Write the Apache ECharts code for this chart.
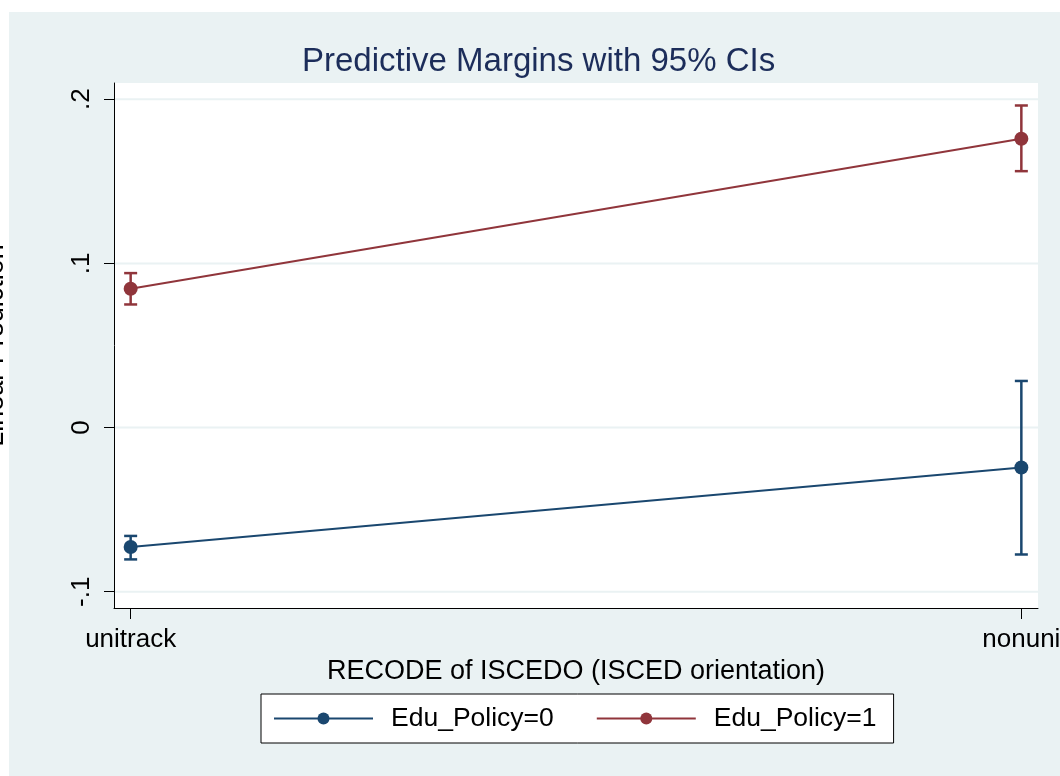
<!DOCTYPE html>
<html><head><meta charset="utf-8">
<script src="https://cdn.jsdelivr.net/npm/echarts@6/dist/echarts.min.js"></script>
<style>html,body{margin:0;padding:0;background:#fff;} #c{width:1060px;height:776px;}</style>
</head><body><div id="c"></div>
<script>
const categories = ['unitrack', 'nonuni'];
const xPos = [0, 1];
const yTicks = [-0.1, 0, 0.1, 0.2];
const yTickLabels = ['-.1', '0', '.1', '.2'];
const seriesNames = ['Edu_Policy=0', 'Edu_Policy=1'];
const est0 = [-0.0727, -0.0243];
const lo0  = [-0.0803, -0.0773];
const hi0  = [-0.0660,  0.0284];
const est1 = [ 0.0846,  0.1759];
const lo1  = [ 0.0750,  0.1562];
const hi1  = [ 0.0941,  0.1962];

const NAVY = '#1A476F', MAROON = '#90353B', BG = '#EAF2F3';
const FONT = "'Liberation Sans', Arial, sans-serif";

function ciRender(color) {
  return function (params, api) {
    const x = api.value(0), lo = api.value(1), hi = api.value(2);
    const a = api.coord([x, hi]), b = api.coord([x, lo]);
    const w = 6.5;
    const st = { stroke: color, lineWidth: 2.5 };
    return { type: 'group', children: [
      { type: 'line', shape: { x1: a[0], y1: a[1], x2: b[0], y2: b[1] }, style: st },
      { type: 'line', shape: { x1: a[0] - w, y1: a[1], x2: a[0] + w, y2: a[1] }, style: st },
      { type: 'line', shape: { x1: b[0] - w, y1: b[1], x2: b[0] + w, y2: b[1] }, style: st }
    ]};
  };
}

const chart = echarts.init(document.getElementById('c'), null, { renderer: 'canvas' });
chart.setOption({
  backgroundColor: 'transparent',
  animation: false,
  textStyle: { fontFamily: FONT },
  graphic: [{ type: 'rect', z: -10, silent: true, shape: { x: 9, y: 12, width: 1051, height: 764 }, style: { fill: BG } }],
  title: {
    text: 'Predictive Margins with 95% CIs',
    left: 302, top: 45, padding: 0,
    textStyle: { fontSize: 33, fontWeight: 'normal', color: '#1C2D5A', fontFamily: FONT }
  },
  grid: { left: 114, right: 22, top: 83, bottom: 168, show: true, backgroundColor: '#fff', borderWidth: 0,
    containLabel: false, outerBoundsMode: 'none' },
  xAxis: {
    type: 'value', min: -0.0187, max: 1.0187,
    name: 'RECODE of ISCEDO (ISCED orientation)', nameLocation: 'middle', nameGap: 42,
    nameTextStyle: { fontSize: 27, color: '#000', fontFamily: FONT },
    axisLine: { show: true, onZero: false, lineStyle: { color: '#000', width: 1 } },
    axisTick: { show: true, length: 11, customValues: xPos, lineStyle: { color: '#000' } },
    axisLabel: { customValues: xPos, fontSize: 26, color: '#000', margin: 19, hideOverlap: false,
      formatter: v => categories[xPos.indexOf(v)] },
    splitLine: { show: false }
  },
  yAxis: {
    type: 'value', min: -0.1099, max: 0.2099,
    name: 'Linear Prediction', nameLocation: 'middle', nameGap: 105, nameRotate: 90,
    nameTextStyle: { fontSize: 27, color: '#000', fontFamily: FONT },
    axisLine: { show: true, onZero: false, lineStyle: { color: '#000', width: 1 } },
    axisTick: { show: true, length: 10, customValues: yTicks, lineStyle: { color: '#000' } },
    axisLabel: { customValues: yTicks, fontSize: 26, color: '#000', rotate: 90, margin: 19,
      formatter: v => yTickLabels[yTicks.indexOf(v)] },
    splitLine: { show: false }
  },
  legend: {
    data: seriesNames, left: 261, top: 694, orient: 'horizontal',
    itemWidth: 99, itemHeight: 15, itemGap: 42,
    padding: [10.5, 17, 10.5, 12], borderColor: '#000', borderWidth: 1, backgroundColor: '#fff',
    textStyle: { fontSize: 26.5, color: '#000', fontFamily: FONT, lineHeight: 28, padding: [0, 0, 0, 13] }
  },
  series: [
    { type: 'custom', name: 'grid', z: 1, silent: true,
      data: yTicks.map(v => [0, v]),
      renderItem: function (params, api) {
        const y = api.coord([0, api.value(1)])[1];
        const cs = params.coordSys;
        return { type: 'line', shape: { x1: cs.x + 1, y1: y, x2: cs.x + cs.width, y2: y }, style: { stroke: BG, lineWidth: 2 } };
      } },
    { type: 'custom', name: 'ci0', z: 3, silent: true,
      data: xPos.map((x, i) => [x, lo0[i], hi0[i]]), renderItem: ciRender(NAVY) },
    { type: 'custom', name: 'ci1', z: 3, silent: true,
      data: xPos.map((x, i) => [x, lo1[i], hi1[i]]), renderItem: ciRender(MAROON) },
    { type: 'line', name: seriesNames[0], z: 4, color: NAVY,
      data: xPos.map((x, i) => [x, est0[i]]),
      symbol: 'circle', symbolSize: 14, lineStyle: { width: 2, color: NAVY }, itemStyle: { color: NAVY } },
    { type: 'line', name: seriesNames[1], z: 4, color: MAROON,
      data: xPos.map((x, i) => [x, est1[i]]),
      symbol: 'circle', symbolSize: 14, lineStyle: { width: 2, color: MAROON }, itemStyle: { color: MAROON } }
  ]
});
</script></body></html>
